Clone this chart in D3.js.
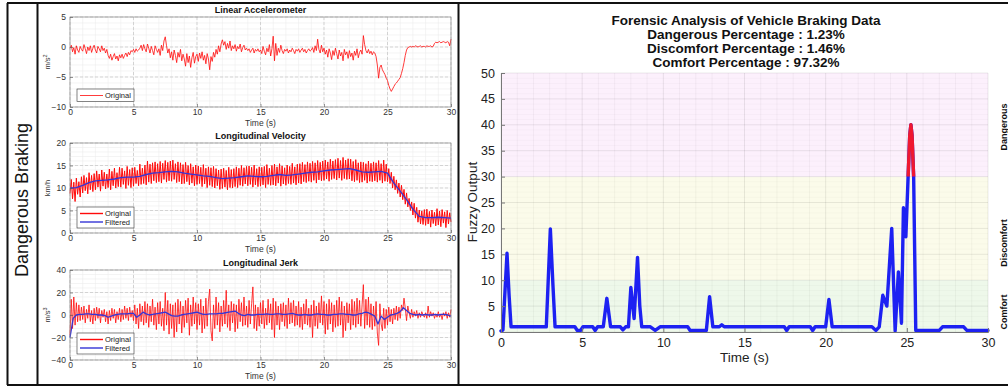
<!DOCTYPE html>
<html>
<head>
<meta charset="utf-8">
<script src="https://cdn.jsdelivr.net/npm/d3@7"></script>
<style>
  body { margin: 0; background: #fff; }
  svg { display: block; font-family: "Liberation Sans", Arial, Helvetica, sans-serif; }
</style>
</head>
<body>
<svg id="chart" width="1008" height="387"></svg>
<script>
// ---- data ----
const timeTicks = [0, 5, 10, 15, 20, 25, 30];
const accelTicks = [-10, -5, 0, 5];
const velTicks = [0, 5, 10, 15, 20];
const jerkTicks = [-40, -20, 0, 20, 40];
const fuzzyTicks = [0, 5, 10, 15, 20, 25, 30, 35, 40, 45, 50];

// linear accelerometer, m/s^2, one value every 0.1 s
const accelOriginal = [
  -0.2, 0.3, -0.8, -0.1, -1.2, 0.2, -0.5, -0.9, 0.1, -0.4,
  -0.7, 0.4, -0.3, -1.1, 0.0, -0.6, 0.2, -0.9, -0.2, 0.3,
  -0.5, -1.0, 0.1, -0.3, -0.8, 0.2, -0.6, -0.2, -1.0, -0.4,
  -1.4, -1.9, -1.2, -2.2, -1.6, -1.1, -2.0, -1.5, -2.3, -1.3,
  -1.8, -1.2, -1.9, -1.4, -1.0, -1.6, -0.9, -1.3, -0.6, -0.8,
  -0.4, -0.9, -0.3, -0.7, -0.5, -0.2, 0.3, -0.6, 0.4, -0.3,
  -0.8, 0.5, -0.2, -1.0, 0.1, -0.6, -1.3, 0.2, -0.4, -0.9,
  -0.3, -1.4, 0.3, -0.6, 1.0, 1.7, 0.2, -1.0, -0.3, -1.8,
  -0.8, -2.2, -0.5, -1.4, -2.6, -0.9, -1.7, -0.4, -2.3, -1.2,
  -2.0, -3.2, -1.1, -2.6, -1.5, -3.4, -1.8, -0.9, -2.7, -1.6,
  -1.2, -2.4, -1.0, -1.9, -0.8, -2.2, -1.4, -2.8, -1.1, -2.0,
  -3.8, -1.6, -2.4, -0.9, -1.7, -0.4, -1.2, 0.2, -0.8, 0.5,
  1.2, 0.3, 0.9, -0.4, 0.6, -0.2, 1.0, -0.6, 0.2, -0.3,
  0.4, -0.7, 0.1, -0.3, 0.5, -0.8, -0.1, 0.3, -0.5, -0.2,
  -0.6, -0.3, -0.9, -0.5, -0.2, -1.0, -0.4, -0.7, -0.3, -0.8,
  -0.5, -1.1, 0.1, -0.7, -1.3, -0.2, -0.8, 0.4, -1.5, -0.3,
  1.8, -2.3, 0.6, -1.4, -0.2, -0.9, 0.3, -0.6, -1.1, -0.4,
  -0.7, -0.3, -1.0, -0.5, -0.8, -0.2, -0.6, -1.1, -0.4, -0.7,
  -0.3, -0.9, -0.5, -0.2, -0.8, -0.4, -1.0, -0.6, -0.3, -0.7,
  -0.5, -0.1, -0.9, 0.2, -0.6, 1.3, -0.4, -1.0, 0.3, -0.8,
  -0.2, -1.2, -0.5, -1.7, -0.3, -1.0, -2.1, -0.6, -1.4, -0.2,
  -1.1, -2.0, -0.5, -1.5, -0.9, -2.3, -0.4, -1.3, -0.8, -1.9,
  -0.6, -1.6, -1.0, -2.2, -0.7, -1.4, -0.3, -1.8, -0.9, -0.5,
  -1.2, 1.9, 0.4, -0.6, -1.0, -0.4, -1.1, -0.7, -1.3, -0.8,
  -1.0, -1.6, -3.0, -5.2, -3.4, -3.0, -3.8, -4.2, -4.6, -5.2,
  -5.6, -6.4, -7.0, -7.4, -7.0, -6.6, -6.2, -6.0, -5.7, -5.4,
  -5.1, -4.4, -3.6, -2.6, -1.4, -0.5, -0.1, 0.0, 0.1, 0.0,
  0.1, 0.0, 0.2, 0.1, 0.0, 0.1, 0.2, 0.0, 0.1, 0.1,
  0.0, 0.2, 0.1, 0.1, 0.2, 0.0, 0.1, 0.6, 0.8, 0.7,
  0.8, 0.9, 0.7, 0.8, 0.9, 0.8, 0.7, 0.9, 0.8, 0.2,
  1.3
];

// longitudinal velocity, km/h, one value every 0.1 s
const velOriginal = [
  8.8, 11.9, 7.6, 11.3, 7.0, 12.2, 8.6, 11.4, 8.0, 12.5,
  8.9, 12.8, 9.4, 12.3, 8.7, 13.4, 9.6, 12.8, 9.2, 13.2,
  9.6, 13.8, 10.2, 13.1, 9.3, 14.0, 10.4, 13.5, 9.8, 13.1,
  10.1, 14.2, 9.6, 13.7, 10.5, 14.4, 10.0, 13.4, 10.3, 14.6,
  10.2, 14.4, 10.8, 13.8, 9.9, 14.8, 10.6, 14.1, 10.1, 14.5,
  10.4, 14.6, 11.0, 13.9, 10.5, 15.3, 10.8, 14.4, 11.0, 15.1,
  10.7, 16.0, 11.3, 15.3, 11.0, 15.6, 11.6, 15.8, 11.2, 15.4,
  11.4, 15.9, 11.1, 15.5, 11.9, 16.1, 11.3, 15.7, 11.6, 16.0,
  11.5, 16.2, 11.9, 15.4, 11.2, 15.8, 11.4, 15.6, 10.9, 15.2,
  11.0, 15.7, 11.4, 15.0, 10.7, 15.4, 11.1, 14.7, 10.5, 15.1,
  10.8, 14.9, 11.0, 14.6, 10.3, 15.2, 10.9, 14.4, 10.1, 14.7,
  10.6, 14.5, 10.3, 14.8, 10.0, 14.3, 10.5, 14.0, 9.7, 14.2,
  9.9, 14.4, 10.2, 13.9, 9.6, 14.6, 10.1, 14.1, 10.0, 14.3,
  10.3, 14.7, 10.1, 14.4, 10.6, 15.0, 10.4, 14.5, 10.9, 14.8,
  10.5, 14.9, 10.8, 14.6, 10.2, 15.1, 10.7, 14.3, 10.3, 14.7,
  10.4, 14.6, 10.7, 14.8, 10.1, 15.2, 10.8, 14.4, 10.6, 15.0,
  10.7, 15.3, 10.5, 14.7, 11.1, 15.4, 10.4, 14.9, 10.9, 14.5,
  10.6, 15.1, 11.0, 14.8, 10.8, 15.5, 11.1, 14.7, 10.7, 15.3,
  11.1, 15.4, 10.9, 15.7, 11.4, 15.2, 11.2, 15.8, 11.5, 15.5,
  11.3, 15.9, 11.7, 15.6, 11.1, 16.1, 11.8, 15.7, 11.6, 16.0,
  11.7, 16.2, 12.0, 15.8, 11.5, 16.4, 11.9, 16.0, 12.1, 16.3,
  11.8, 16.6, 12.2, 16.1, 11.7, 16.8, 12.1, 16.2, 11.9, 16.5,
  12.0, 16.4, 11.6, 15.9, 11.4, 16.3, 11.7, 15.6, 11.2, 15.8,
  11.3, 15.7, 11.7, 15.4, 11.1, 16.0, 11.5, 15.5, 11.4, 15.8,
  11.6, 15.6, 11.3, 16.1, 11.7, 15.4, 11.1, 16.2, 11.5, 15.3,
  11.4, 14.3, 11.0, 13.5, 10.0, 12.6, 9.6, 11.8, 8.8, 11.1,
  8.0, 10.6, 7.4, 9.7, 6.4, 8.9, 5.8, 7.7, 5.0, 6.9,
  4.0, 6.6, 3.3, 5.7, 2.4, 5.1, 2.0, 4.9, 1.9, 5.2,
  1.7, 5.3, 2.0, 4.8, 1.3, 5.1, 2.1, 4.6, 1.6, 5.4,
  1.8, 4.9, 1.4, 5.2, 2.2, 4.7, 1.2, 5.0, 2.0, 4.5,
  2.4
];

// filtered velocity, one value every 0.5 s
const velFiltered = [
  10.0, 10.1, 10.6, 11.2, 11.6, 11.7, 11.8, 12.0, 12.3, 12.4,
  12.4, 12.6, 13.0, 13.3, 13.4, 13.6, 13.7, 13.6, 13.3, 13.1,
  12.9, 12.7, 12.6, 12.3, 12.1, 12.2, 12.3, 12.5, 12.7, 12.6,
  12.5, 12.6, 12.8, 13.0, 12.8, 12.9, 13.1, 13.3, 13.5, 13.6,
  13.8, 14.0, 14.1, 14.2, 14.3, 14.0, 13.6, 13.5, 13.6, 13.7,
  13.3, 11.1, 9.3, 7.4, 5.3, 3.7, 3.4, 3.4, 3.5, 3.4,
  3.3
];

// longitudinal jerk, m/s^3, one value every 0.1 s
const jerkOriginal = [
  -18, 14, -12, 16, -9, 11, -6, 9, -5, 7,
  -4, 8, -7, 5, -3, 9, -6, 4, -8, 6,
  -5, 7, -3, 6, -7, 4, -2, 5, -6, 3,
  -8, 4, -5, 6, -3, 5, -7, 3, -4, 6,
  -6, 5, -4, 8, -3, 6, -5, 7, -2, 4,
  -5, 9, -8, 6, -12, 10, -6, 8, -9, 12,
  -7, 10, -11, 8, -6, 14, -9, 7, -13, 11,
  -8, 12, -10, 6, -14, 20, -9, 13, -17, 10,
  -12, 9, -20, 11, -15, 14, -8, 12, -16, 8,
  -11, 13, -7, 15, -18, 9, -10, 16, -8, 11,
  -13, 10, -9, 14, -16, 8, -12, 15, -10, 12,
  23, -14, -23, 9, -12, 16, -9, 11, -15, 8,
  -10, 13, -8, 22, -11, 9, -14, 12, -7, 10,
  -15, 9, -12, 14, -6, 11, -10, 16, -9, 8,
  -11, 13, -8, 10, 25, -12, 9, -14, 7, -10,
  11, -8, 13, -12, 6, -9, 14, -7, 10, -13,
  15, -20, 12, -9, 8, -13, 10, -6, 11, -10,
  9, -12, 15, -8, 11, -7, 13, -10, 8, -9,
  12, -11, 7, -13, 10, -8, 14, -9, 6, -11,
  9, -20, 13, -10, 8, -12, 11, -7, 17, -9,
  12, -17, 10, -13, 14, -8, 11, -15, 9, -11,
  13, -10, 16, -9, 12, -20, 8, -14, 11, -7,
  10, -13, 14, -9, 12, -11, 15, -8, 13, -10,
  9, 27, -12, 14, -9, 16, -11, 10, -13, 8,
  -10, 12, -16, -27, 10, -8, -14, 6, -12, 5,
  -9, 7, -6, 5, -8, 6, -4, 8, -5, 7,
  -3, 9, 4, 15, 6, -5, 8, 2, -3, 5,
  -2, 3, -1, 4, -3, 2, -2, 3, 0, -2,
  2, -3, 8, -2, 3, -1, 2, -3, 1, -2,
  3, -2, 1, -4, 2, -1, 3, -3, 2, -2,
  5
];

// filtered jerk, one value every 0.25 s
const jerkFiltered = [
  -20, -3, 0, 0.5,  0.5, 1, 1, 0.5,  0.5, 0, 0, -0.5,  -2, -1, 0, 0.5,
  1, 1, 1, 1.5,  1.5, -2, 0, 2.5,  1, 0, 0.5, 1,  1.5, 2, 2.5, 1,
  -0.5, -1, -1, 0,  0.5, 1, 1.5, 2,  2.5, 1.5, 0.5, 0.5,  1, 1, 1, 1.5,
  1.5, 2, 2.5, 3,  3.5, 1.5, 0, -0.5,  0.5, 0, 0, 0.5,  0.5, 0.5, 1, 0.5,
  0.5, 1, 1, 0.5,  0.5, 1, 1.5, 0.5,  0, 0, 0.5, 0,  0, 0.5, 1, 0.5,
  0.5, 0, 0, 0.5,  0.5, 1, 1, 0.5,  0.5, 0, 0, 1,  1.5, 2.5, 2, 0.5,
  -1, -8, -1, -4,  -2, 0, 0.5, 1.5,  3, 6.5, 4, 1.5,  0.5, 0, 0.5, 0,
  0.5, 0, 0, 0.5,  0, 0.5, 0.5, 0,  -1
];

// fuzzy output of the braking assessment
const fuzzyTime = [
  0, 0.12, 0.37, 0.5, 0.62, 2.79, 3.04, 3.2, 3.33, 4.55, 4.7, 4.9, 5.05, 5.65, 5.8, 5.95,
  6.3, 6.52, 6.75, 7.35, 7.51, 7.68, 7.85, 8.0, 8.2, 8.41, 8.55, 8.67, 9.2, 9.5, 9.8,
  11.5, 11.65, 12.65, 12.85, 13.05, 13.45, 13.6, 13.75, 17.45, 17.6, 17.75, 19.05, 19.2, 19.35,
  20.0, 20.2, 20.4, 22.85, 23.1, 23.3, 23.52, 23.77, 24.07, 24.28, 24.48, 24.67, 24.79, 24.94,
  25.08, 25.18, 25.25, 25.32, 25.42, 25.55, 27.0, 27.2, 28.5, 28.7, 30
];
const fuzzyValue = [
  0.2, 0.4, 15.2, 7, 1, 1, 19.9, 9, 1, 1, 0.3, 0.3, 1, 1, 0.3, 1,
  1, 6.5, 1, 1, 0.4, 1, 1, 8.6, 2.6, 14.4, 5, 1, 1, 0.3, 1,
  1, 0.3, 0.3, 6.8, 1, 1, 1.4, 1, 1, 0.3, 1, 1, 0.3, 1,
  1, 6.3, 1, 1, 0.3, 1, 7.1, 5, 20, 0.2, 11.6, 1.7, 24, 18.4,
  30, 38, 40, 38, 30, 0.3, 0.3, 1, 1, 0.3, 0.3
];

const zoneNames = ["Comfort", "Discomfort", "Dangerous"];
const zoneLimits = [0, 10, 30, 50];
const zoneFills = ["#eef8ea", "#fbfbea", "#fcf0fc"];
const titleLines = [
  "Forensic Analysis of Vehicle Braking Data",
  "Dangerous Percentage : 1.23%",
  "Discomfort Percentage : 1.46%",
  "Comfort Percentage : 97.32%"
];

const red = "#ff0a0a";
const blue = "#3434d6";

const svg = d3.select("#chart");
svg.append("rect").attr("width", 1008).attr("height", 387).attr("fill", "#fff");

// ---- left side: three MATLAB-like subplots ----
const xLeft = d3.scaleLinear().domain([0, 30]).range([70, 451]);

const panels = [
  {
    title: "Linear Accelerometer", top: 17, bottom: 107, domain: [-10, 5], ticks: accelTicks,
    minorStep: 1, unit: "m/s", sup: "2", legendY: 89,
    series: [{ name: "Original", values: accelOriginal, step: 0.1, color: red, width: 0.8 }]
  },
  {
    title: "Longitudinal Velocity", top: 143, bottom: 233, domain: [0, 20], ticks: velTicks,
    minorStep: 1, unit: "km/h", sup: "", legendY: 207,
    series: [
      { name: "Original", values: velOriginal, step: 0.1, color: red, width: 1 },
      { name: "Filtered", values: velFiltered, step: 0.5, color: blue, width: 1.3 }
    ]
  },
  {
    title: "Longitudinal Jerk", top: 270, bottom: 360, domain: [-40, 40], ticks: jerkTicks,
    minorStep: 4, unit: "m/s", sup: "3", legendY: 333,
    series: [
      { name: "Original", values: jerkOriginal, step: 0.1, color: red, width: 0.8 },
      { name: "Filtered", values: jerkFiltered, step: 0.25, color: blue, width: 1.3 }
    ]
  }
];

panels.forEach((p) => {
  const y = d3.scaleLinear().domain(p.domain).range([p.bottom, p.top]);
  const g = svg.append("g");

  // minor grid
  const minor = g.append("g").attr("stroke", "#ececec").attr("stroke-width", 0.6);
  d3.range(0, 30.001, 1).forEach((t) => {
    minor.append("line").attr("x1", xLeft(t)).attr("x2", xLeft(t)).attr("y1", p.top).attr("y2", p.bottom);
  });
  d3.range(p.domain[0], p.domain[1] + 0.001, p.minorStep).forEach((v) => {
    minor.append("line").attr("x1", 70).attr("x2", 451).attr("y1", y(v)).attr("y2", y(v));
  });

  // major grid, dashed
  const major = g.append("g").attr("stroke", "#c4c4c4").attr("stroke-width", 0.7).attr("stroke-dasharray", "3,2");
  timeTicks.forEach((t) => {
    major.append("line").attr("x1", xLeft(t)).attr("x2", xLeft(t)).attr("y1", p.top).attr("y2", p.bottom);
  });
  p.ticks.forEach((v) => {
    major.append("line").attr("x1", 70).attr("x2", 451).attr("y1", y(v)).attr("y2", y(v));
  });

  // series
  p.series.forEach((s) => {
    const line = d3.line().x((d, i) => xLeft(i * s.step)).y((d) => y(d));
    g.append("path")
      .datum(s.values)
      .attr("fill", "none")
      .attr("stroke", s.color)
      .attr("stroke-width", s.width)
      .attr("stroke-linejoin", "round")
      .attr("d", line);
  });

  // box
  g.append("rect")
    .attr("x", 70).attr("y", p.top).attr("width", 381).attr("height", p.bottom - p.top)
    .attr("fill", "none").attr("stroke", "#8a8a8a").attr("stroke-width", 0.7);

  // axes
  const ax = g.append("g")
    .attr("transform", "translate(0," + p.bottom + ")")
    .call(d3.axisBottom(xLeft).tickValues(timeTicks).tickSize(-3).tickPadding(2));
  const ay = g.append("g")
    .attr("transform", "translate(70,0)")
    .call(d3.axisLeft(y).tickValues(p.ticks).tickSize(-3).tickPadding(4));
  [ax, ay].forEach((a) => {
    a.select(".domain").remove();
    a.selectAll(".tick line").attr("stroke", "#555").attr("stroke-width", 0.6);
    a.selectAll(".tick text").attr("fill", "#333").style("font-size", "8.5px")
      .style("font-family", '"Liberation Sans", Arial, sans-serif');
  });

  // title and labels
  g.append("text").attr("x", 260.5).attr("y", p.top - 4).attr("text-anchor", "middle")
    .attr("font-weight", "bold").attr("font-size", 9).attr("fill", "#111").text(p.title);
  g.append("text").attr("x", 260.5).attr("y", p.bottom + 19).attr("text-anchor", "middle")
    .attr("font-size", 8.5).attr("fill", "#333").text("Time (s)");
  const yl = g.append("text")
    .attr("transform", "translate(50," + (p.top + p.bottom) / 2 + ") rotate(-90)")
    .attr("text-anchor", "middle").attr("font-size", 7.5).attr("fill", "#333");
  yl.append("tspan").text(p.unit);
  if (p.sup) yl.append("tspan").attr("dy", -3).attr("font-size", 5.5).text(p.sup);

  // legend
  const lg = g.append("g").attr("transform", "translate(77," + p.legendY + ")");
  lg.append("rect").attr("width", 57).attr("height", 4 + p.series.length * 8.5)
    .attr("fill", "#fff").attr("stroke", "#333").attr("stroke-width", 0.6);
  p.series.forEach((s, i) => {
    const yy = 6.5 + i * 8.5;
    lg.append("line").attr("x1", 3).attr("x2", 26).attr("y1", yy).attr("y2", yy)
      .attr("stroke", s.color).attr("stroke-width", s.name === "Original" && p.series.length === 1 ? 0.8 : 1.4);
    lg.append("text").attr("x", 28).attr("y", yy + 2.6).attr("font-size", 7.5).attr("fill", "#222").text(s.name);
  });
});

// ---- right side: fuzzy output ----
const xR = d3.scaleLinear().domain([0, 30]).range([501, 988]);
const yR = d3.scaleLinear().domain([0, 50]).range([332, 73]);
const gr = svg.append("g");

zoneNames.forEach((name, i) => {
  gr.append("rect")
    .attr("x", xR(0)).attr("width", xR(30) - xR(0))
    .attr("y", yR(zoneLimits[i + 1])).attr("height", yR(zoneLimits[i]) - yR(zoneLimits[i + 1]))
    .attr("fill", zoneFills[i]);
});

const gridR = gr.append("g");
d3.range(0, 30.001, 1).forEach((t) => {
  gridR.append("line").attr("x1", xR(t)).attr("x2", xR(t)).attr("y1", yR(50)).attr("y2", yR(0))
    .attr("stroke", "#000").attr("stroke-opacity", t % 5 === 0 ? 0.12 : 0.06).attr("stroke-width", 0.7);
});
d3.range(0, 50.001, 1).forEach((v) => {
  gridR.append("line").attr("x1", xR(0)).attr("x2", xR(30)).attr("y1", yR(v)).attr("y2", yR(v))
    .attr("stroke", "#000").attr("stroke-opacity", v % 5 === 0 ? 0.12 : 0.04).attr("stroke-width", 0.7);
});

const fuzzyData = fuzzyTime.map((t, i) => ({ t: t, v: fuzzyValue[i] }));
const fuzzyLine = d3.line().x((d) => xR(d.t)).y((d) => yR(d.v));

svg.append("clipPath").attr("id", "dangerClip")
  .append("rect").attr("x", xR(0)).attr("y", 0).attr("width", xR(30) - xR(0) + 5).attr("height", yR(zoneLimits[2]));

gr.append("path").datum(fuzzyData)
  .attr("fill", "none").attr("stroke", "#1d21f2").attr("stroke-width", 3.4)
  .attr("stroke-linejoin", "round").attr("stroke-linecap", "round").attr("d", fuzzyLine);
gr.append("path").datum(fuzzyData)
  .attr("clip-path", "url(#dangerClip)")
  .attr("fill", "none").attr("stroke", "#ef1830").attr("stroke-width", 3.4)
  .attr("stroke-linejoin", "round").attr("stroke-linecap", "round").attr("d", fuzzyLine);

const axR = gr.append("g").attr("transform", "translate(0,332)")
  .call(d3.axisBottom(xR).tickValues(timeTicks).tickSize(-4).tickPadding(6));
const ayR = gr.append("g").attr("transform", "translate(501,0)")
  .call(d3.axisLeft(yR).tickValues(fuzzyTicks).tickSize(-4).tickPadding(6));
[axR, ayR].forEach((a) => {
  a.select(".domain").attr("stroke", "#777").attr("stroke-width", 1);
  a.selectAll(".tick line").attr("stroke", "#777");
  a.selectAll(".tick text").attr("fill", "#222").style("font-size", "12.5px")
    .style("font-family", '"Liberation Sans", Arial, sans-serif');
});

gr.append("text").attr("x", 744.5).attr("y", 362).attr("text-anchor", "middle")
  .attr("font-size", 13.5).attr("fill", "#222").text("Time (s)");
gr.append("text").attr("transform", "translate(477,202) rotate(-90)").attr("text-anchor", "middle")
  .attr("font-size", 13.5).attr("fill", "#222").text("Fuzzy Output");

titleLines.forEach((txt, i) => {
  gr.append("text").attr("x", 746).attr("y", 25 + i * 14).attr("text-anchor", "middle")
    .attr("font-weight", "bold").attr("font-size", 13.5).attr("fill", "#111").text(txt);
});

const zoneLabelY = [312, 243, 127];
zoneNames.forEach((name, i) => {
  gr.append("text").attr("transform", "translate(1007," + zoneLabelY[i] + ") rotate(-90)")
    .attr("text-anchor", "middle").attr("font-weight", "bold").attr("font-size", 9)
    .attr("fill", "#111").text(name);
});

// ---- frame lines and row label ----
const frame = svg.append("g").attr("stroke", "#111").attr("stroke-width", 2);
frame.append("line").attr("x1", 7).attr("x2", 1008).attr("y1", 3).attr("y2", 3);
frame.append("line").attr("x1", 7).attr("x2", 1008).attr("y1", 385).attr("y2", 385);
frame.append("line").attr("x1", 7.5).attr("x2", 7.5).attr("y1", 3).attr("y2", 385);
frame.append("line").attr("x1", 37.5).attr("x2", 37.5).attr("y1", 3).attr("y2", 385);
frame.append("line").attr("x1", 458.5).attr("x2", 458.5).attr("y1", 3).attr("y2", 385);

svg.append("text").attr("transform", "translate(28,200) rotate(-90)")
  .attr("text-anchor", "middle").attr("font-size", 18).attr("fill", "#111").text("Dangerous Braking");
</script>
</body>
</html>
